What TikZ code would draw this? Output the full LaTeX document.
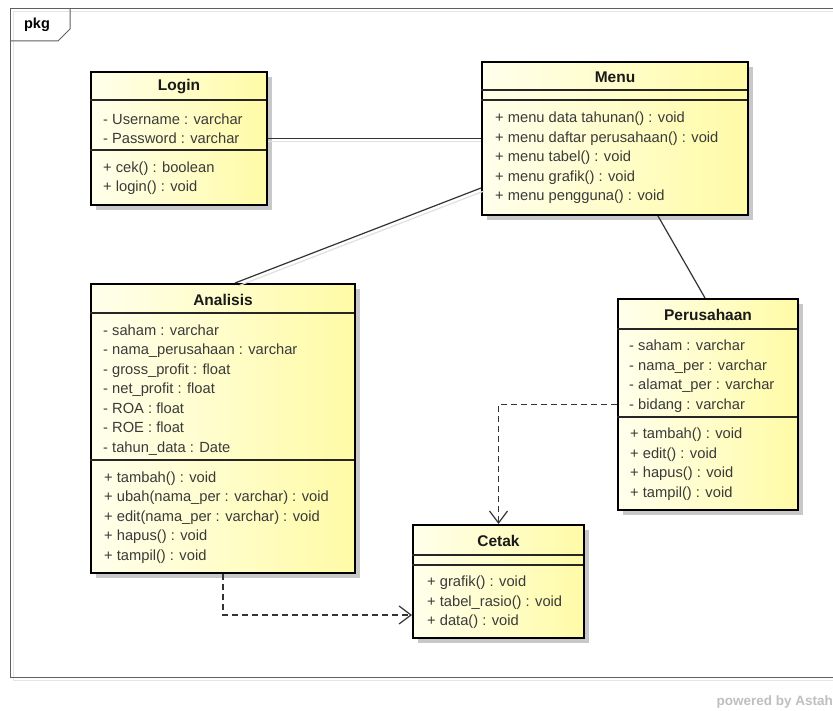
\documentclass[tikz,border=0pt]{standalone}
\usepackage{fontspec}
\setmainfont{Liberation Sans}
\usetikzlibrary{arrows.meta,calc,shadows}
\definecolor{txt}{HTML}{3A3A3A}
\definecolor{pale}{HTML}{FFFFEC}
\definecolor{yel}{HTML}{FFFBA6}
\definecolor{frm}{HTML}{606060}
\tikzset{
  cls/.style={draw=black, line width=2pt, rectangle, inner sep=0pt,
    left color=pale, right color=yel,
    drop shadow={shadow xshift=5pt, shadow yshift=-5pt, fill=black!25, opacity=0.85}},
  sep/.style={draw=black!85, line width=1.3pt},
  title/.style={font=\fontsize{15.5}{18}\selectfont\bfseries, text=black!90, inner sep=0pt},
  cmp/.style={font=\fontsize{14.7}{19.5}\selectfont, text=txt, align=left, anchor=west, inner sep=0pt},
  assoc/.style={draw=black!80, line width=1.2pt},
  dep/.style={draw=black!80, line width=1.2pt, dash pattern=on 6pt off 4pt,
    -{Straight Barb[length=12pt,width=18pt,line width=1.2pt]}},
  lshadow/.style={draw=black!12, line width=1.2pt},
}
\begin{document}
\begin{tikzpicture}[x=1pt,y=-1pt]
\useasboundingbox (0,0) rectangle (833,711);
\fill[white] (0,0) rectangle (833,711);
% frame
\draw[black!10, line width=1pt] (13,680) -- (840,680);
\draw[black!10, line width=1pt] (13,12) -- (13,680);
\draw[black!10, line width=1pt] (13,12) -- (840,12);
\draw[frm, line width=1pt] (840,9) -- (10,9) -- (10,677) -- (840,677);
\draw[frm, line width=1pt] (10,41) -- (58,41) -- (70,29) -- (70,9);
\node[font=\fontsize{14.5}{17}\selectfont\bfseries, inner sep=0pt] (pkg) at (37,25) {pkg};

% boxes
\node[cls, minimum width=176, minimum height=133] (login) at (179,138.5) {};
\node[cls, minimum width=266, minimum height=153] (menu) at (615,138.5) {};
\node[cls, minimum width=264, minimum height=289] (analisis) at (223,428.5) {};
\node[cls, minimum width=180, minimum height=211] (per) at (708,404.5) {};
\node[cls, minimum width=171, minimum height=113] (cetak) at (498.5,581.5) {};

% separators
\draw[sep] ($(login.north west)+(0,29)$) -- ++(176,0);
\draw[sep] ($(login.north west)+(0,79)$) -- ++(176,0);
\draw[sep] ($(menu.north west)+(0,29)$) -- ++(266,0);
\draw[sep] ($(menu.north west)+(0,39)$) -- ++(266,0);
\draw[sep] ($(analisis.north west)+(0,30)$) -- ++(264,0);
\draw[sep] ($(analisis.north west)+(0,177)$) -- ++(264,0);
\draw[sep] ($(per.north west)+(0,31)$) -- ++(180,0);
\draw[sep] ($(per.north west)+(0,119)$) -- ++(180,0);
\draw[sep] ($(cetak.north west)+(0,31)$) -- ++(171,0);
\draw[sep] ($(cetak.north west)+(0,41)$) -- ++(171,0);

% titles
\node[title] (logint) at (179,87) {Login};
\node[title] (menut) at (615,77) {Menu};
\node[title] (analisist) at (223,300) {Analisis};
\node[title] (pert) at (708,315) {Perusahaan};
\node[title] (cetakt) at (498.5,541) {Cetak};

% compartments
\node[cmp] (logina) at (103,128.5) {- Username : varchar\\- Password : varchar};
\node[cmp] (loginm) at (103,178) {+ cek() : boolean\\+ login() : void};
\node[cmp] (menum) at (495,158) {+ menu data tahunan() : void\\+ menu daftar perusahaan() : void\\+ menu tabel() : void\\+ menu grafik() : void\\+ menu pengguna() : void};
\node[cmp] (analisisa) at (103,390) {- saham : varchar\\- nama\_perusahaan : varchar\\- gross\_profit : float\\- net\_profit : float\\- ROA : float\\- ROE : float\\- tahun\_data : Date};
\node[cmp] (analisism) at (104,517.5) {+ tambah() : void\\+ ubah(nama\_per : varchar) : void\\+ edit(nama\_per : varchar) : void\\+ hapus() : void\\+ tampil() : void};
\node[cmp] (pera) at (629,376) {- saham : varchar\\- nama\_per : varchar\\- alamat\_per : varchar\\- bidang : varchar};
\node[cmp] (perm) at (630,464) {+ tambah() : void\\+ edit() : void\\+ hapus() : void\\+ tampil() : void};
\node[cmp] (cetakm) at (427,602.5) {+ grafik() : void\\+ tabel\_rasio() : void\\+ data() : void};

% connector shadows
\draw[lshadow] ([yshift=-3pt]login.east) -- ([yshift=-3pt]menu.west);
\draw[lshadow] ([xshift=3pt,yshift=-52.5pt]menu.west) -- ([xshift=15pt,yshift=-3pt]analisis.north);
% connectors
\draw[assoc] (login.east) -- (menu.west);
\draw[assoc] ([yshift=-49.5pt]menu.west) -- ([xshift=12pt]analisis.north);
\draw[assoc] ([xshift=43pt]menu.south) -- ([xshift=-3pt]per.north);
\draw[dep] (per.west) -| (cetak.north);
\draw[dep] (analisis.south) |- ([yshift=-33.5pt]cetak.west);

\node[font=\fontsize{13.5}{15}\selectfont\bfseries, text=black!25, anchor=east, inner sep=0pt] (powered) at (833,702) {powered by Astah};
\end{tikzpicture}
\end{document}
